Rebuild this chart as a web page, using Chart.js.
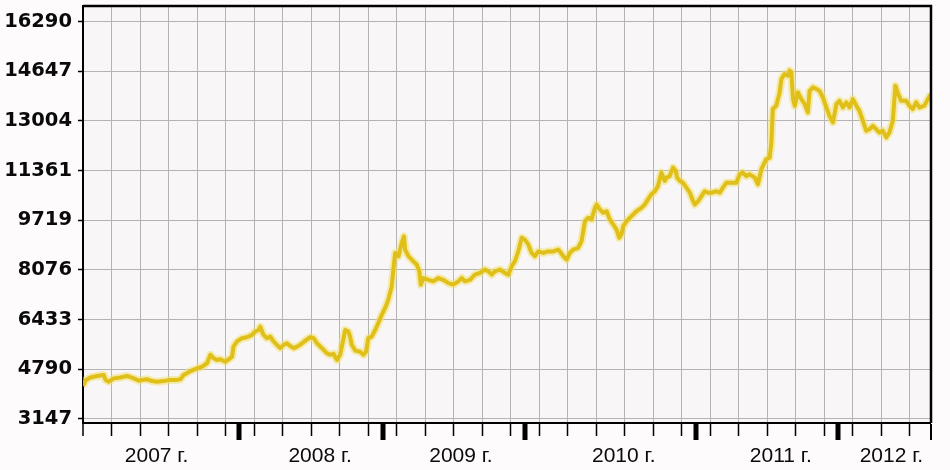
<!DOCTYPE html>
<html>
<head>
<meta charset="utf-8">
<script src="https://cdn.jsdelivr.net/npm/chart.js@4.4.1/dist/chart.umd.min.js"></script>
<style>
  html, body { margin: 0; padding: 0; background: #fdfbfc; }
  #myChart { display: block; }
</style>
</head>
<body>
<canvas id="myChart" width="950" height="470"></canvas>
<script>
// x = position in grid steps (one vertical grid line per step), y = price
const periods = [
  0.00, 0.09, 0.26, 0.50, 0.73, 0.79, 0.90, 1.08, 1.31, 1.55, 1.78, 1.96, 2.07, 2.25, 2.42, 2.60, 2.83, 3.07, 3.30, 3.42,
  3.53, 3.77, 4.00, 4.18, 4.35, 4.47, 4.58, 4.70, 4.82, 4.99, 5.11, 5.23, 5.28, 5.40, 5.58, 5.75, 5.93, 6.04, 6.16, 6.22,
  6.33, 6.45, 6.57, 6.69, 6.80, 6.92, 7.04, 7.15, 7.27, 7.39, 7.51, 7.62, 7.80, 7.97, 8.09, 8.21, 8.38, 8.56, 8.67, 8.79,
  8.91, 9.02, 9.08, 9.20, 9.31, 9.37, 9.43, 9.55, 9.72, 9.84, 9.93, 10.01, 10.13, 10.25, 10.36, 10.48, 10.60, 10.71, 10.83, 10.89,
  10.95, 11.07, 11.18, 11.26, 11.30, 11.42, 11.59, 11.71, 11.80, 11.85, 11.94, 12.12, 12.29, 12.47, 12.64, 12.82, 12.99, 13.17, 13.29, 13.40,
  13.58, 13.75, 13.93, 14.10, 14.22, 14.34, 14.45, 14.63, 14.80, 14.92, 15.04, 15.15, 15.27, 15.39, 15.50, 15.62, 15.74, 15.85, 15.97, 16.15,
  16.32, 16.50, 16.67, 16.73, 16.85, 16.97, 17.08, 17.20, 17.37, 17.49, 17.61, 17.72, 17.84, 17.96, 18.02, 18.13, 18.25, 18.37, 18.48, 18.60,
  18.72, 18.81, 18.89, 18.95, 19.07, 19.18, 19.30, 19.42, 19.59, 19.71, 19.82, 19.94, 20.06, 20.17, 20.23, 20.29, 20.41, 20.47, 20.58, 20.70,
  20.80, 20.84, 20.94, 21.05, 21.17, 21.29, 21.38, 21.46, 21.58, 21.70, 21.81, 21.93, 22.05, 22.22, 22.34, 22.45, 22.57, 22.75, 22.92, 23.04,
  23.15, 23.27, 23.39, 23.57, 23.68, 23.80, 23.97, 24.09, 24.15, 24.20, 24.32, 24.44, 24.50, 24.61, 24.73, 24.79, 24.85, 24.91, 24.97, 25.08,
  25.20, 25.32, 25.43, 25.49, 25.61, 25.73, 25.84, 25.96, 26.08, 26.19, 26.31, 26.43, 26.54, 26.66, 26.78, 26.89, 27.01, 27.13, 27.24, 27.36,
  27.48, 27.59, 27.71, 27.83, 27.94, 28.06, 28.18, 28.29, 28.41, 28.50, 28.58, 28.70, 28.88, 28.99, 29.11, 29.23, 29.34, 29.52, 29.64, 29.75
];
const prices = [
  4240, 4430, 4520, 4570, 4600, 4440, 4380, 4490, 4520, 4570, 4490, 4410, 4440, 4460, 4400, 4380, 4400, 4440, 4440, 4460,
  4600, 4730, 4820, 4880, 4990, 5270, 5160, 5100, 5120, 5040, 5120, 5210, 5540, 5710, 5820, 5850, 5930, 6040, 6090, 6200,
  5930, 5820, 5870, 5710, 5600, 5490, 5600, 5650, 5560, 5490, 5540, 5600, 5740, 5850, 5820, 5650, 5490, 5320, 5270, 5300,
  5100, 5270, 5540, 6090, 6040, 5870, 5600, 5410, 5370, 5270, 5370, 5820, 5870, 6090, 6320, 6590, 6820, 7090, 7530, 8090,
  8640, 8530, 8970, 9190, 8750, 8530, 8360, 8250, 8030, 7590, 7810, 7750, 7700, 7810, 7750, 7640, 7590, 7700, 7810, 7700,
  7750, 7920, 7980, 8090, 8030, 7920, 8030, 8090, 7980, 7920, 8200, 8360, 8690, 9140, 9080, 8920, 8640, 8530, 8690, 8640,
  8690, 8690, 8750, 8690, 8530, 8420, 8640, 8750, 8810, 9030, 9690, 9800, 9750, 10130, 10240, 10080, 9970, 10020, 9750, 9580,
  9410, 9140, 9250, 9520, 9690, 9800, 9910, 10020, 10130, 10240, 10410, 10580, 10680, 10850, 11070, 11300, 11020, 11130, 11180, 11460,
  11350, 11130, 11020, 10960, 10800, 10630, 10410, 10240, 10350, 10520, 10680, 10630, 10630, 10680, 10630, 10800, 10960, 10960, 10960, 11240,
  11300, 11180, 11240, 11130, 10910, 11410, 11740, 11790, 12290, 13400, 13510, 13950, 14390, 14560, 14500, 14670, 14610, 13730, 13510, 13950,
  13730, 13560, 13290, 14000, 14120, 14060, 14000, 13780, 13450, 13170, 12960, 13560, 13670, 13450, 13620, 13450, 13730, 13510, 13340, 13010,
  12680, 12730, 12840, 12730, 12620, 12680, 12460, 12620, 13010, 14170, 13950, 13670, 13670, 13510, 13400, 13620, 13450, 13510, 13730, 13890
];

const yTicks = [3147, 4790, 6433, 8076, 9719, 11361, 13004, 14647, 16290];
const yearLabels = ['2007 г.', '2008 г.', '2009 г.', '2010 г.', '2011 г.', '2012 г.'];
const yearLabelPos = [2.58, 8.32, 13.26, 18.97, 24.48, 28.36];
const yearBreaks = [5.48, 10.52, 15.5, 21.52, 26.48];
const gridSteps = 29;
const xMax = 29.75;

const kindOf = (ctx) => (ctx && ctx.tick && ctx.tick.kind) || '';

// фон области графика и рамка сверху/справа
const framePlugin = {
    id: 'frame',
    beforeDraw(chart) {
        const { ctx, chartArea: a } = chart;
        ctx.save();
        ctx.fillStyle = '#f9f6f8';
        ctx.fillRect(a.left, a.top, a.right - a.left, a.bottom - a.top);
        ctx.restore();
    },
    afterDraw(chart) {
        const { ctx, chartArea: a } = chart;
        ctx.save();
        ctx.strokeStyle = '#000';
        ctx.lineWidth = 2.5;
        ctx.beginPath();
        ctx.moveTo(a.left, a.top);
        ctx.lineTo(a.right, a.top);
        ctx.lineTo(a.right, a.bottom);
        ctx.stroke();
        ctx.restore();
    }
};

const points = periods.map((p, i) => ({ x: p, y: prices[i] }));

const ctx = document.getElementById('myChart').getContext('2d');

const myChart = new Chart(ctx, {
    type: 'line',
    data: {
        datasets: [{
            // основная линия
            data: points,
            borderColor: '#e0bf18',
            borderWidth: 4,
            borderJoinStyle: 'round',
            pointRadius: 0,
            tension: 0
        }, {
            // светлый ореол под линией
            data: points,
            borderColor: 'rgba(240, 224, 110, 0.55)',
            borderWidth: 8,
            borderJoinStyle: 'round',
            pointRadius: 0,
            tension: 0
        }]
    },
    options: {
        responsive: false,
        animation: false,
        layout: { padding: { top: 6, right: 19, left: 0, bottom: 0 } },
        plugins: {
            legend: { display: false },
            tooltip: { enabled: false }
        },
        scales: {
            x: {
                type: 'linear',
                min: 0,
                max: xMax,
                afterBuildTicks: (scale) => {
                    const t = [];
                    for (let i = 0; i <= gridSteps; i++) t.push({ value: i, kind: i === 0 ? 'edge' : 'grid' });
                    t.push({ value: xMax, kind: 'end' });
                    yearBreaks.forEach(v => t.push({ value: v, kind: 'year' }));
                    yearLabelPos.forEach(v => t.push({ value: v, kind: 'label' }));
                    t.sort((a, b) => a.value - b.value);
                    scale.ticks = t;
                },
                afterFit: (scale) => {
                    scale.height = 47;
                    scale.paddingLeft = 0;
                    scale.paddingRight = 0;
                },
                border: { color: '#000', width: 2 },
                grid: {
                    color: '#b4b4b4',
                    lineWidth: (c) => kindOf(c) === 'grid' ? 1 : 0,
                    tickColor: '#000',
                    tickLength: 17,
                    tickWidth: (c) => {
                        const k = kindOf(c);
                        if (k === 'year') return 5;
                        if (k === 'end') return 2;
                        if (k === 'label') return 0;
                        return 1.5;
                    },
                    tickBorderDash: (c) => (kindOf(c) === 'grid' || kindOf(c) === 'edge') ? [12, 60] : []
                },
                ticks: {
                    autoSkip: false,
                    maxRotation: 0,
                    minRotation: 0,
                    padding: 4,
                    color: '#0a0a0a',
                    font: { family: 'Liberation Sans', size: 21 },
                    callback: (value, index, ticks) => {
                        const i = yearLabelPos.indexOf(value);
                        return i >= 0 ? yearLabels[i] : '';
                    }
                }
            },
            y: {
                min: 3014,
                max: 16808,
                afterBuildTicks: (scale) => {
                    scale.ticks = yTicks.map(v => ({ value: v }));
                },
                afterFit: (scale) => {
                    scale.width = 83;
                    scale.paddingTop = 0;
                    scale.paddingBottom = 0;
                },
                border: { color: '#000', width: 2 },
                grid: {
                    color: '#b4b4b4',
                    lineWidth: 1,
                    tickColor: '#000',
                    tickLength: 5,
                    tickWidth: 1.5
                },
                ticks: {
                    padding: 6,
                    color: '#0a0a0a',
                    font: { family: 'DejaVu Sans', weight: 'bold', size: 19.5 },
                    callback: (v) => String(v)
                }
            }
        }
    },
    plugins: [framePlugin]
});
</script>
</body>
</html>
